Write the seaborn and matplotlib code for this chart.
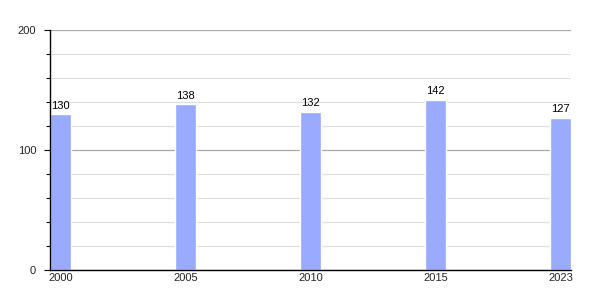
import matplotlib
matplotlib.use("Agg")
import matplotlib.pyplot as plt
import seaborn as sns
import pandas as pd
from matplotlib.ticker import MultipleLocator

years = ["2000", "2005", "2010", "2015", "2023"]
values = [130, 138, 132, 142, 127]

sns.set_theme(style="white")
plt.rcParams['font.family'] = ['Liberation Sans', 'DejaVu Sans']

df = pd.DataFrame({"year": years, "value": values})

fig = plt.figure(figsize=(6, 3), dpi=100)
ax = fig.add_axes([50/600, 30/300, 521/600, 240/300])

w = 0.168
sns.barplot(data=df, x="year", y="value", color="#99aaff", saturation=1,
            width=w, ax=ax, zorder=3)
ax.set_xlim(-w/2, len(years) - 1 + w/2)
ax.set_ylim(0, 200)
ax.yaxis.set_major_locator(MultipleLocator(100))
ax.yaxis.set_minor_locator(MultipleLocator(20))
ax.grid(which="major", axis="y", color="#aaaaaa", linewidth=0.9, zorder=0)
ax.grid(which="minor", axis="y", color="#e0e0e0", linewidth=0.9, zorder=0)
ax.set_axisbelow(True)

for s in ["top", "right"]:
    ax.spines[s].set_visible(False)
for s in ["left", "bottom"]:
    ax.spines[s].set_color("black")
    ax.spines[s].set_linewidth(1.0)
    ax.spines[s].set_zorder(4)

ax.tick_params(axis="y", which="major", left=True, length=4, width=0.8,
               color="black", labelsize=8, pad=6)
ax.tick_params(axis="y", which="minor", left=True, length=3, width=0.8, color="black")
ax.tick_params(axis="x", which="major", bottom=False, length=0, labelsize=8, pad=2.5)

ax.set_xlabel("")
ax.set_ylabel("")

for i, v in enumerate(values):
    ax.annotate(str(v), (i, v), xytext=(0, 2.5), textcoords="offset points",
                ha="center", va="bottom", fontsize=8, color="black")

fig.savefig("out.png", dpi=100)
